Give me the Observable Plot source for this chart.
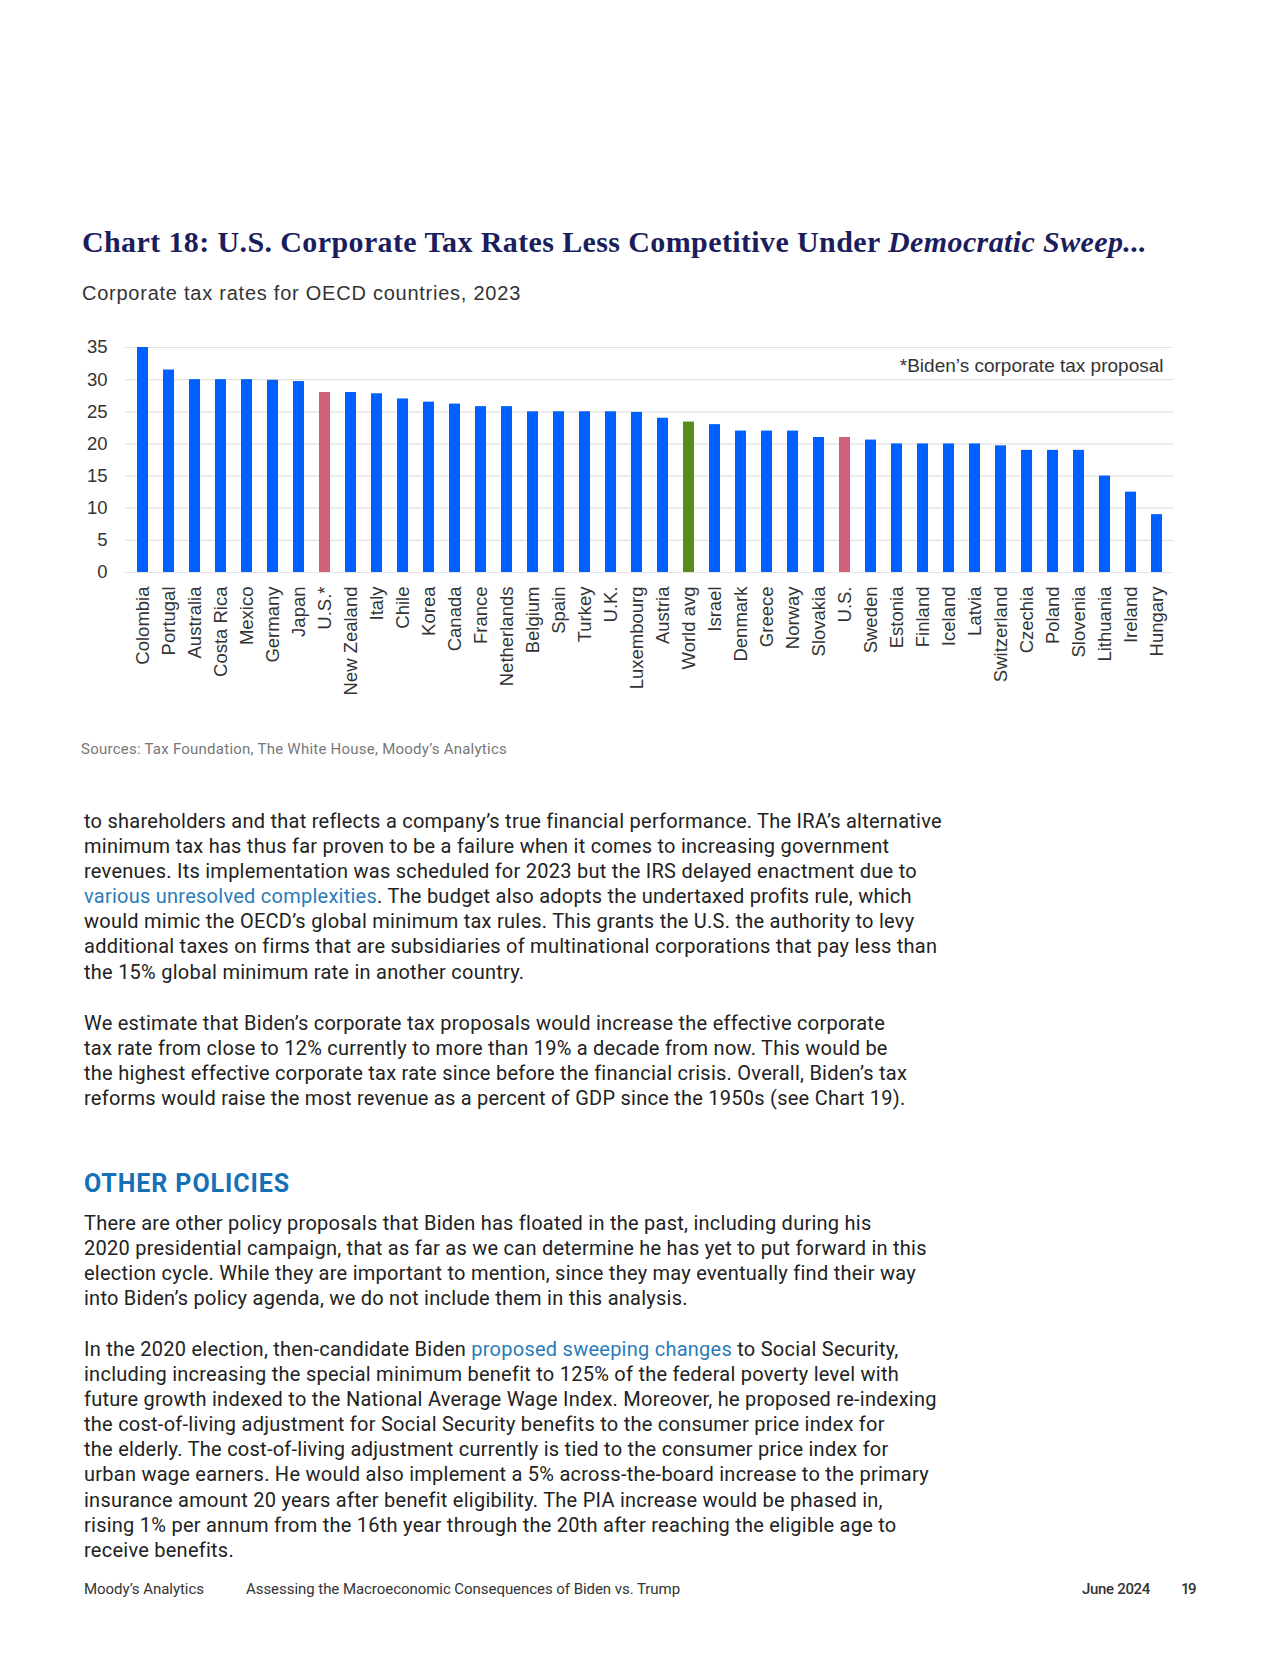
<!DOCTYPE html>
<html>
<head>
<meta charset="utf-8">
<script src="https://cdn.jsdelivr.net/npm/d3@7"></script>
<script src="https://cdn.jsdelivr.net/npm/@observablehq/plot@0.6"></script>
<style>
  html, body { margin: 0; padding: 0; background: #fff; }
  #page { position: relative; width: 1280px; height: 1656px; background: #fff; overflow: hidden; }
  .abs { position: absolute; white-space: nowrap; }
  #title { left: 82px; top: 225px; font-family: "Liberation Serif", serif; font-weight: bold; font-size: 30px; line-height: 34px; color: #1b1d5c; }
  #subtitle { left: 82px; top: 281px; font-family: "Liberation Sans", Arial, sans-serif; font-size: 20px; line-height: 24px; color: #333; }
  #chart { left: 0; top: 320px; }
  #sources { left: 81px; top: 741px; font-family: Roboto, sans-serif; font-size: 15px; line-height: 17px; color: #777; }
  .para { left: 84px; font-family: Roboto, sans-serif; font-size: 20px; line-height: 25.1px; color: #222; letter-spacing: 0.25px; }
  .para a { color: #2b7bb9; text-decoration: none; }
  #heading { left: 84px; top: 1170px; font-family: Roboto, sans-serif; font-weight: bold; font-size: 25px; line-height: 28px; color: #1570b5; }
  .foot { top: 1581px; font-family: Roboto, sans-serif; font-size: 15px; line-height: 17px; color: #333; }
</style>
</head>
<body>
<div id="page">
  <div id="title" class="abs" data-w="1065">Chart 18: U.S. Corporate Tax Rates Less Competitive Under <i>Democratic Sweep...</i></div>
  <div id="subtitle" class="abs" data-w="439">Corporate tax rates for OECD countries, 2023</div>
  <div id="chart" class="abs"></div>
  <div id="sources" class="abs" data-w="426">Sources: Tax Foundation, The White House, Moody’s Analytics</div>

  <div class="para abs" style="top:809px">to shareholders and that reflects a company’s true financial performance. The IRA’s alternative<br>minimum tax has thus far proven to be a failure when it comes to increasing government<br>revenues. Its implementation was scheduled for 2023 but the IRS delayed enactment due to<br><a>various unresolved complexities</a>. The budget also adopts the undertaxed profits rule, which<br>would mimic the OECD’s global minimum tax rules. This grants the U.S. the authority to levy<br>additional taxes on firms that are subsidiaries of multinational corporations that pay less than<br>the 15% global minimum rate in another country.</div>

  <div class="para abs" style="top:1010.5px">We estimate that Biden’s corporate tax proposals would increase the effective corporate<br>tax rate from close to 12% currently to more than 19% a decade from now. This would be<br>the highest effective corporate tax rate since before the financial crisis. Overall, Biden’s tax<br>reforms would raise the most revenue as a percent of GDP since the 1950s (see Chart 19).</div>

  <div id="heading" class="abs" data-w="206">OTHER POLICIES</div>

  <div class="para abs" style="top:1211px">There are other policy proposals that Biden has floated in the past, including during his<br>2020 presidential campaign, that as far as we can determine he has yet to put forward in this<br>election cycle. While they are important to mention, since they may eventually find their way<br>into Biden’s policy agenda, we do not include them in this analysis.</div>

  <div class="para abs" style="top:1337px">In the 2020 election, then-candidate Biden <a>proposed sweeping changes</a> to Social Security,<br>including increasing the special minimum benefit to 125% of the federal poverty level with<br>future growth indexed to the National Average Wage Index. Moreover, he proposed re-indexing<br>the cost-of-living adjustment for Social Security benefits to the consumer price index for<br>the elderly. The cost-of-living adjustment currently is tied to the consumer price index for<br>urban wage earners. He would also implement a 5% across-the-board increase to the primary<br>insurance amount 20 years after benefit eligibility. The PIA increase would be phased in,<br>rising 1% per annum from the 16th year through the 20th after reaching the eligible age to<br>receive benefits.</div>

  <div class="foot abs" style="left:84px" data-w="120">Moody’s Analytics</div>
  <div class="foot abs" style="left:246px" data-w="434">Assessing the Macroeconomic Consequences of Biden vs. Trump</div>
  <div class="foot abs" style="left:1082px; font-weight:500" data-w="68">June 2024</div>
  <div class="foot abs" style="left:1181px; font-weight:500" data-w="14">19</div>
</div>
<script>
const countries = ["Colombia","Portugal","Australia","Costa Rica","Mexico","Germany","Japan","U.S.*","New Zealand","Italy","Chile","Korea","Canada","France","Netherlands","Belgium","Spain","Turkey","U.K.","Luxembourg","Austria","World avg","Israel","Denmark","Greece","Norway","Slovakia","U.S.","Sweden","Estonia","Finland","Iceland","Latvia","Switzerland","Czechia","Poland","Slovenia","Lithuania","Ireland","Hungary"];
const rates = [35,31.5,30,30,30,29.9,29.7,28,28,27.8,27,26.5,26.2,25.8,25.8,25,25,25,25,24.9,24,23.4,23,22,22,22,21,21,20.6,20,20,20,20,19.7,19,19,19,15,12.5,9];
const usLabels = ["U.S.*", "U.S."];
const avgLabels = ["World avg"];
const yTicks = [0,5,10,15,20,25,30,35];
const note = "*Biden’s corporate tax proposal";

const BLUE = "#0060ff", RED = "#d06078", GREEN = "#5a8c1c";
const data = countries.map((c, i) => ({country: c, rate: rates[i]}));
const fillOf = d => usLabels.includes(d.country) ? RED : avgLabels.includes(d.country) ? GREEN : BLUE;

const chart = Plot.plot({
  width: 1280,
  height: 400,
  marginLeft: 125,
  marginRight: 107,
  marginTop: 27,
  marginBottom: 148,
  style: {fontSize: "18.5px", fontFamily: "'Liberation Sans', Arial, sans-serif", color: "#333", background: "transparent"},
  x: {domain: countries, paddingInner: 0.59, paddingOuter: 0.295, label: null},
  y: {domain: [0, 35], ticks: yTicks, label: null},
  marks: [
    Plot.gridY(yTicks, {stroke: "#e2e2e2", strokeOpacity: 1, strokeWidth: 1.2}),
    Plot.barY(data, {x: "country", y: "rate", fill: fillOf}),
    Plot.axisY(yTicks, {tickSize: 0, tickPadding: 18, label: null, fontSize: 18.5}),
    Plot.axisX({tickSize: 0, tickPadding: 14, tickRotate: -90, label: null, fontSize: 18.5}),
    Plot.text([note], {text: d => d, frameAnchor: "top-right", dx: -10, dy: 18, lineAnchor: "middle", textAnchor: "end", fontSize: 19, fill: "#333"})
  ]
});
document.getElementById("chart").appendChild(chart);

// fit single-line texts to the widths measured on the reference
function fit() {
  document.querySelectorAll("[data-w]").forEach(el => {
    el.style.letterSpacing = "0px";
    const w = el.getBoundingClientRect().width;
    const n = el.textContent.length;
    const target = +el.dataset.w;
    el.style.letterSpacing = ((target - w) / n).toFixed(3) + "px";
  });
}
fit();
if (document.fonts && document.fonts.ready) document.fonts.ready.then(fit);
</script>
</body>
</html>
